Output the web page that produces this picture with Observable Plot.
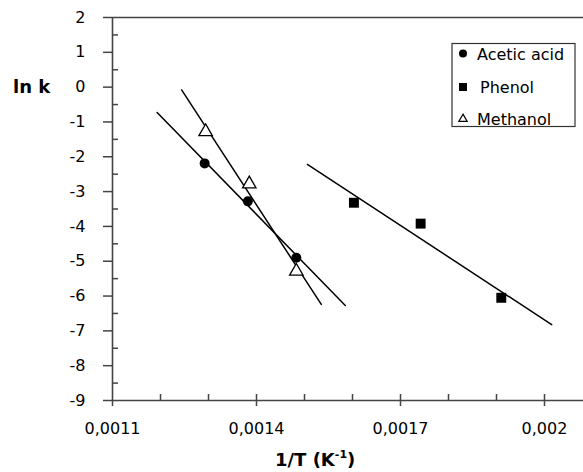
<!DOCTYPE html>
<html>
<head>
<meta charset="utf-8">
<script src="https://cdn.jsdelivr.net/npm/d3@7"></script>
<script src="https://cdn.jsdelivr.net/npm/@observablehq/plot@0.6"></script>
<style>
  html, body { margin: 0; padding: 0; background: white; }
  #chart { position: relative; width: 583px; height: 472px; }
</style>
</head>
<body>
<div id="chart"></div>
<script>
// ---- data ----
const seriesNames = ["Acetic acid", "Phenol", "Methanol"];

const aceticX = [0.001292, 0.001382, 0.001483];
const aceticY = [-2.19, -3.28, -4.90];
const phenolX = [0.001603, 0.001742, 0.001910];
const phenolY = [-3.32, -3.92, -6.05];
const methanolX = [0.001294, 0.001385, 0.001483];
const methanolY = [-1.28, -2.78, -5.29];

// fitted lines: [x start, x end], [y start, y end]
const aceticFitX = [0.001193, 0.001585];
const aceticFitY = [-0.73, -6.27];
const phenolFitX = [0.001506, 0.002015];
const phenolFitY = [-2.22, -6.82];
const methanolFitX = [0.001244, 0.001535];
const methanolFitY = [-0.08, -6.24];

const xMajorTicks = [0.0011, 0.0014, 0.0017, 0.002];
const xInnerTicks = [0.0012, 0.0013, 0.0014, 0.0015, 0.0016, 0.0017, 0.0018, 0.0019, 0.002];
const yMajorTicks = [-9, -8, -7, -6, -5, -4, -3, -2, -1, 0, 1, 2];
const yMinorTicks = [-8.5, -7.5, -6.5, -5.5, -4.5, -3.5, -2.5, -1.5, -0.5, 0.5, 1.5];
const xDomain = [0.0011, 0.0020813];
const yDomain = [-9, 2];
const xLabel = "1/T (K";
const xLabelSup = "-1";
const yLabel = "ln k";

// ---- build tables ----
const pts = (xs, ys, s) => xs.map((x, i) => ({x, y: ys[i], series: s}));
const acetic = pts(aceticX, aceticY, seriesNames[0]);
const phenol = pts(phenolX, phenolY, seriesNames[1]);
const methanol = pts(methanolX, methanolY, seriesNames[2]);
const fits = [
  ...pts(aceticFitX, aceticFitY, seriesNames[0]),
  ...pts(phenolFitX, phenolFitY, seriesNames[1]),
  ...pts(methanolFitX, methanolFitY, seriesNames[2])
];

const axisColor = "#444";
const font = "DejaVu Sans, Liberation Sans, sans-serif";

const plot = Plot.plot({
  width: 583,
  height: 472,
  marginLeft: 112,
  marginRight: 0,
  marginTop: 17,
  marginBottom: 72,
  x: {domain: xDomain},
  y: {domain: yDomain},
  style: {fontFamily: font, fontSize: "16px", color: "black", background: "white", overflow: "visible"},
  marks: [
    Plot.ruleY([yDomain[0], yDomain[1]], {stroke: axisColor, strokeWidth: 1.6}),
    Plot.ruleX([xDomain[0]], {stroke: axisColor, strokeWidth: 1.6}),
    Plot.axisY({ticks: yMajorTicks, tickSize: 9, tickPadding: 18, label: null,
                tickFormat: d => String(d), stroke: axisColor, strokeWidth: 1.5, fill: "black"}),
    Plot.axisY({ticks: yMinorTicks, tickSize: -6, text: null, label: null, stroke: axisColor, strokeWidth: 1.5}),
    Plot.axisX({ticks: xMajorTicks, tickSize: 6, tickPadding: 16, label: null,
                tickFormat: d => String(d).replace(".", ","), stroke: axisColor, strokeWidth: 1.5, fill: "black"}),
    Plot.axisX({ticks: xInnerTicks, tickSize: -6, text: null, label: null, stroke: axisColor, strokeWidth: 1.5}),
    Plot.line(fits, {x: "x", y: "y", z: "series", stroke: "black", strokeWidth: 1.5}),
    Plot.dot(acetic, {x: "x", y: "y", symbol: "circle", r: 5, fill: "black", stroke: null}),
    Plot.dot(phenol, {x: "x", y: "y", symbol: "square", r: 5.6, fill: "black", stroke: null}),
    Plot.dot(methanol, {x: "x", y: "y", symbol: "triangle", r: 5, fill: "white", stroke: "black", strokeWidth: 1.3})
  ]
});

document.getElementById("chart").appendChild(plot);

// ---- axis titles & legend drawn into the same svg ----
const svg = d3.select(plot);
const ys = plot.scale("y");

svg.append("text")
  .attr("x", 13).attr("y", ys.apply(0) + 6.5)
  .attr("text-anchor", "start")
  .attr("font-family", font).attr("font-weight", "bold").attr("font-size", 18)
  .attr("fill", "black")
  .text(yLabel);

const xt = svg.append("text")
  .attr("x", 275).attr("y", 466)
  .attr("text-anchor", "start")
  .attr("font-family", font).attr("font-weight", "bold").attr("font-size", 18)
  .attr("fill", "black");
xt.append("tspan").text(xLabel);
xt.append("tspan").attr("font-size", 11).attr("dy", -8).text(xLabelSup);
xt.append("tspan").attr("dy", 8).text(")");

const legend = svg.append("g").attr("transform", "translate(452,43.5)");
legend.append("rect").attr("x", 0).attr("y", 0).attr("width", 123).attr("height", 83)
  .attr("fill", "white").attr("stroke", "#333").attr("stroke-width", 1.2);
const legendSymbols = [
  {type: d3.symbolCircle, size: Math.PI * 16, fill: "black", stroke: "none"},
  {type: d3.symbolSquare, size: 64, fill: "black", stroke: "none"},
  {type: d3.symbolTriangle2, size: Math.PI * 16, fill: "white", stroke: "black"}
];
const rowY = [10, 43.5, 75.5];
const textX = [25, 28, 25];
seriesNames.forEach((name, i) => {
  const sym = legendSymbols[i];
  legend.append("path")
    .attr("transform", `translate(11,${rowY[i]})`)
    .attr("d", d3.symbol(sym.type, sym.size)())
    .attr("fill", sym.fill).attr("stroke", sym.stroke).attr("stroke-width", 1.2);
  legend.append("text")
    .attr("x", textX[i]).attr("y", rowY[i] + 6)
    .attr("text-anchor", "start")
    .attr("font-family", font).attr("font-size", 16).attr("fill", "black")
    .text(name);
});
</script>
</body>
</html>
